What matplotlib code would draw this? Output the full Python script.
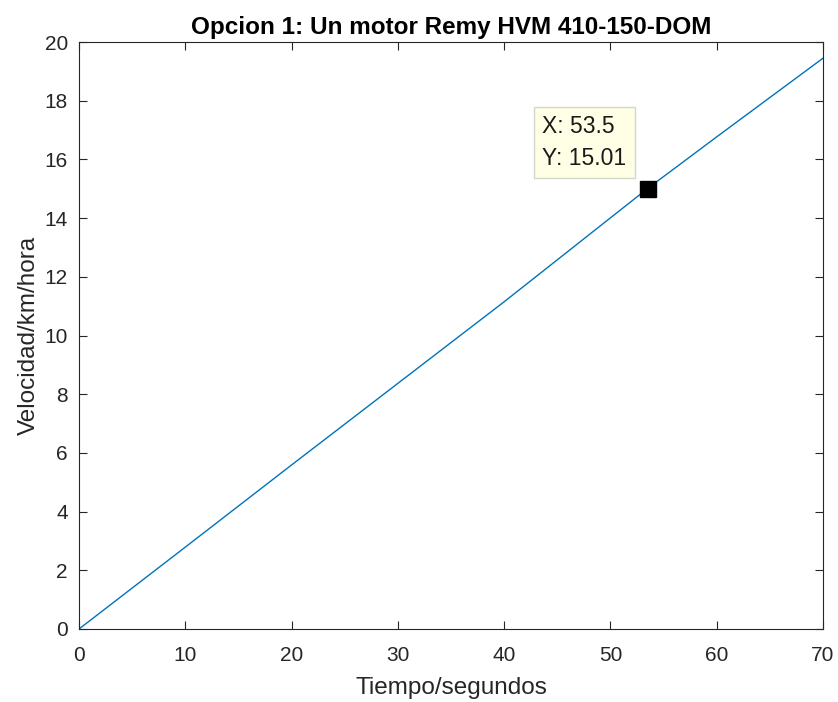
import matplotlib
matplotlib.use("Agg")
import matplotlib.pyplot as plt

# Speed profile over time
tiempo = [0, 10, 20, 30, 40, 53.5, 60, 70]
velocidad = [0, 2.79, 5.59, 8.37, 11.15, 15.01, 16.77, 19.45]

# Data tip
tip_x = 53.5
tip_y = 15.01

xticks = [0, 10, 20, 30, 40, 50, 60, 70]
yticks = [0, 2, 4, 6, 8, 10, 12, 14, 16, 18, 20]

plt.rcParams['font.family'] = ['Liberation Sans', 'DejaVu Sans']
dark = '#262626'

fig = plt.figure(figsize=(8.38, 7.02), dpi=100)
ax = fig.add_axes([0.0943, 0.104, 0.8877, 0.836])

ax.plot(tiempo, velocidad, color='#0072BD', lw=1.0)
ax.plot([tip_x], [tip_y], marker='s', ms=11.5, color='black', ls='none')
ax.annotate(f"X: {tip_x}\nY: {tip_y}", xy=(tip_x, tip_y),
            xytext=(-21, 19), textcoords='offset pixels',
            ha='right', va='bottom', multialignment='left',
            fontsize=16.5, color='#1a1a1a', linespacing=1.45,
            bbox=dict(boxstyle='square,pad=0.35', fc='#FFFFE6', ec='#D6D6CC', lw=1))

ax.set_xlim(0, 70)
ax.set_ylim(0, 20)
ax.set_xticks(xticks)
ax.set_yticks(yticks)
ax.tick_params(direction='in', length=6, width=0.8, top=True, right=True,
               labelsize=15, colors=dark)
ax.tick_params(axis='x', pad=12)
ax.tick_params(axis='y', pad=8)
for s in ax.spines.values():
    s.set_color(dark)
    s.set_linewidth(0.8)

ax.set_xlabel('Tiempo/segundos', fontsize=17.5, color=dark, labelpad=9)
ax.set_ylabel('Velocidad/km/hora', fontsize=17.5, color=dark, labelpad=3)
ax.set_title('Opcion 1: Un motor Remy HVM 410-150-DOM', fontsize=17.5,
             fontweight='bold', color='black', pad=6)

fig.savefig('out.png', dpi=100)
